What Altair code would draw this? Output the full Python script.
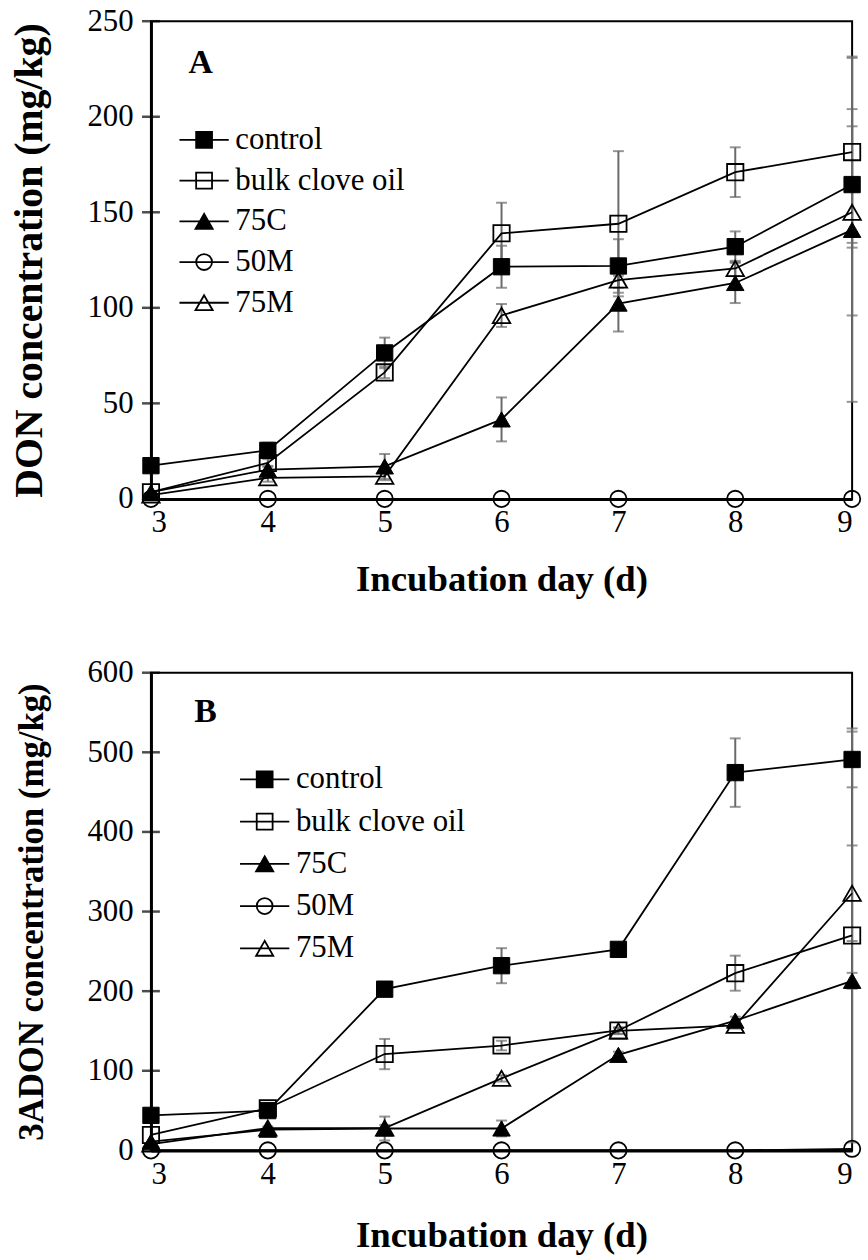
import altair as alt
import pandas as pd

days = [3, 4, 5, 6, 7, 8, 9]
series = ["control", "bulk clove oil", "75C", "50M", "75M"]

# Panel A: DON (mg/kg)
don_vals = {
    "control":        [17.4, 25.4, 76.4, 121.5, 121.9, 132.0, 164.5],
    "bulk clove oil": [3.5, 18.8, 66.2, 139.0, 144.0, 171.0, 181.5],
    "75C":            [3.5, 15.3, 17.0, 41.6, 102.2, 113.0, 140.8],
    "50M":            [0, 0, 0, 0, 0, 0, 0],
    "75M":            [2.0, 11.0, 11.8, 96.0, 114.5, 120.6, 150.0],
}
don_errs = {
    "control":        [0, 4, 8, 11, 14, 8, 30.5],
    "bulk clove oil": [0, 2, 3, 16, 38, 13, 50],
    "75C":            [0, 2, 6.5, 11.5, 14.6, 10.5, 90],
    "50M":            [0, 0, 0, 0, 0, 0, 0],
    "75M":            [0, 2, 2, 6, 4, 4, 54],
}
# Panel B: 3ADON (mg/kg)
adon_vals = {
    "control":        [44, 50, 202.5, 232, 252.5, 474.5, 491],
    "bulk clove oil": [19.4, 53, 121, 131.7, 150.6, 222.6, 270],
    "75C":            [11, 26, 27.5, 27.5, 120, 163, 213],
    "50M":            [0, 0, 0, 0, 0, 0, 2],
    "75M":            [8, 28, 28, 90.5, 150, 157, 323],
}
adon_errs = {
    "control":        [0, 0, 0, 22, 3, 43, 35],
    "bulk clove oil": [0, 3, 19, 6, 4, 22, 260],
    "75C":            [0, 2, 15, 10, 4, 5, 10],
    "50M":            [0, 0, 0, 0, 0, 0, 0],
    "75M":            [0, 2, 4, 4, 4, 4, 60],
}
don_ticks = [0, 50, 100, 150, 200, 250]
adon_ticks = [0, 100, 200, 300, 400, 500, 600]

FONT = "Liberation Serif"
shapes = {"control": ("square", True, 270), "bulk clove oil": ("square", False, 270),
          "75C": ("triangle-up", True, 310), "50M": ("circle", False, 270),
          "75M": ("triangle-up", False, 310)}
legend_paths = [
    "M-3.1,0H3.1M-1,-1H1V1H-1Z",
    "M-3.1,0H3.1M-1,-1H1V1H-1Z",
    "M-3.1,0H3.1M0,-0.94L-1.08,0.94L1.08,0.94Z",
    "M-3.1,0H3.1M1,0A1,1,0,1,1,-1,0A1,1,0,1,1,1,0Z",
    "M-3.1,0H3.1M0,-0.94L-1.08,0.94L1.08,0.94Z",
]
legend_fills = ["black", "transparent", "black", "transparent", "transparent"]
legend_strokes = ["black"] * 5


def long_df(vals, errs):
    rows = []
    for s in series:
        for d, v, e in zip(days, vals[s], errs[s]):
            rows.append({"day": d, "series": s, "value": v, "err": e})
    return pd.DataFrame(rows)


def panel(vals, errs, ymax, yticks, ytitle, ytitle_size, label, lab_xy, leg_xy, row_pad,
          xtitle_pad):
    df = long_df(vals, errs)
    xscale = alt.Scale(domain=[3, 9], nice=False, zero=False)
    yscale = alt.Scale(domain=[0, ymax], nice=False)
    xaxis = alt.Axis(values=days, title="Incubation day (d)", format="d",
                     labelPadding=9, titlePadding=xtitle_pad)
    yaxis = alt.Axis(values=yticks, title=ytitle, titleFontSize=ytitle_size,
                     labelPadding=18, titlePadding=38)
    X = alt.X("day:Q", scale=xscale, axis=xaxis)

    base = alt.Chart(df)
    errbase = base.transform_filter("datum.err > 0").transform_calculate(
        lo=f"max(0, datum.value - datum.err)", hi=f"min({ymax}, datum.value + datum.err)")
    rules = errbase.mark_rule(color="#6a6a6a", strokeWidth=2).encode(
        x=X, y=alt.Y("lo:Q", scale=yscale, axis=yaxis), y2="hi:Q")
    cap_lo = errbase.transform_filter("datum.lo > 0").mark_tick(
        orient="horizontal", size=11, thickness=2, color="#6a6a6a").encode(
        x=X, y=alt.Y("lo:Q", scale=yscale, axis=yaxis))
    cap_hi = errbase.transform_filter(f"datum.hi < {ymax}").mark_tick(
        orient="horizontal", size=11, thickness=2, color="#6a6a6a").encode(
        x=X, y=alt.Y("hi:Q", scale=yscale, axis=yaxis))
    lines = base.mark_line(color="black", strokeWidth=1.8).encode(
        x=X, y=alt.Y("value:Q", scale=yscale, axis=yaxis), detail="series:N")
    layers = [rules, cap_lo, cap_hi, lines]
    for s in series:
        shp, filled, sz = shapes[s]
        if filled:
            m = base.transform_filter(alt.datum.series == s).mark_point(
                shape=shp, filled=True, fill="black", stroke="black", strokeWidth=1,
                size=sz, opacity=1)
        else:
            m = base.transform_filter(alt.datum.series == s).mark_point(
                shape=shp, filled=False, stroke="black", strokeWidth=1.8,
                size=sz, opacity=1)
        layers.append(m.encode(x=X, y=alt.Y("value:Q", scale=yscale, axis=yaxis)))

    ticks = alt.Chart(pd.DataFrame({"v": yticks})).mark_tick(
        orient="horizontal", size=18, thickness=2.5, color="black").encode(
        y=alt.Y("v:Q", scale=yscale, axis=yaxis), x=alt.value(0))
    layers.append(ticks)

    leg = alt.Legend(title=None, orient="none", legendX=leg_xy[0], legendY=leg_xy[1],
                     labelFont=FONT, labelFontSize=31, labelColor="black", labelLimit=500,
                     symbolSize=256, symbolStrokeColor="black", symbolStrokeWidth=1.8,
                     labelOffset=16, rowPadding=row_pad, padding=0)
    legend_layer = base.transform_filter("false").mark_point(stroke="black", opacity=1).encode(
        shape=alt.Shape("series:N", scale=alt.Scale(domain=series, range=legend_paths), legend=leg),
        fill=alt.Fill("series:N", scale=alt.Scale(domain=series, range=legend_fills), legend=leg),
        stroke=alt.Stroke("series:N", scale=alt.Scale(domain=series, range=legend_strokes), legend=leg),
    )
    layers.append(legend_layer)

    lab = alt.Chart(pd.DataFrame({"t": [label]})).mark_text(
        font=FONT, fontWeight="bold", fontSize=34, color="black", align="center",
        baseline="middle").encode(text="t:N", x=alt.value(lab_xy[0]), y=alt.value(lab_xy[1]))
    layers.append(lab)

    return alt.layer(*layers).properties(width=706, height=481).resolve_scale(
        shape="independent", fill="independent", stroke="independent")


A = panel(don_vals, don_errs, 250, don_ticks, "DON concentration (mg/kg)", 40, "A",
          (50, 42), (38, 104), 9, 24)
B = panel(adon_vals, adon_errs, 600, adon_ticks, "3ADON concentration (mg/kg)", 35, "B",
          (55, 40), (99, 92), 10.5, 29)

chart = alt.vconcat(A, B, spacing=58).resolve_scale(
    shape="independent", fill="independent", stroke="independent").resolve_legend(
    shape="independent", fill="independent", stroke="independent").properties(
    padding={"left": 8, "top": 0, "right": 2, "bottom": 0}
).configure_view(stroke="black", strokeWidth=2).configure_axis(
    labelFont=FONT, labelFontSize=31, labelColor="black",
    titleFont=FONT, titleFontSize=37, titleFontWeight="bold", titleColor="black",
    domainColor="black", domainWidth=3, ticks=False, tickSize=0, grid=False,
)

chart.save("out.html", embed_options={"renderer": "svg", "actions": False})
